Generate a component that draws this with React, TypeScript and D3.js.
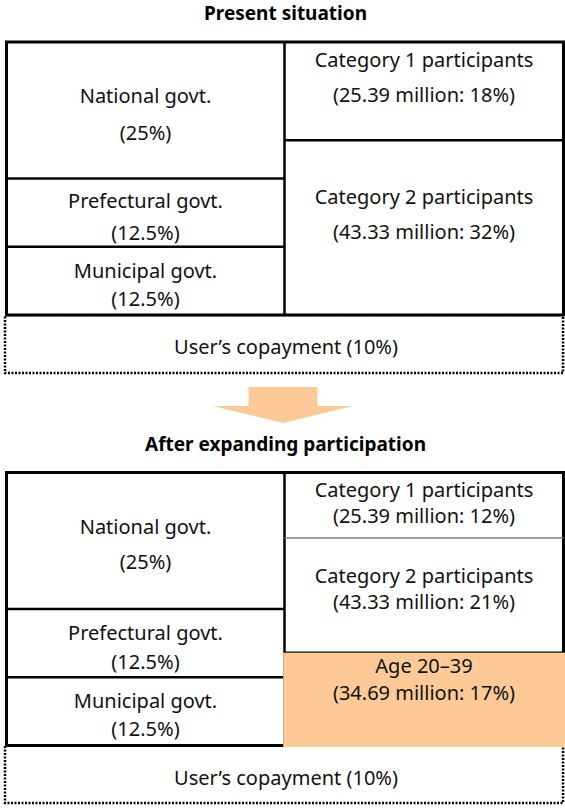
import * as d3 from 'd3';

const TITLES = ['Present situation', 'After expanding participation'];

const GOVT_NAMES = ['National govt.', 'Prefectural govt.', 'Municipal govt.'];
const GOVT_SHARES = [25, 12.5, 12.5];

const NOW_NAMES = ['Category 1 participants', 'Category 2 participants'];
const NOW_MILLIONS = [25.39, 43.33];
const NOW_SHARES = [18, 32];

const AFTER_NAMES = ['Category 1 participants', 'Category 2 participants', 'Age 20\u201339'];
const AFTER_MILLIONS = [25.39, 43.33, 34.69];
const AFTER_SHARES = [12, 21, 17];

const COPAY_NAME = 'User\u2019s copayment';
const COPAY_SHARE = 10;

// label placement: [first baseline below block top, line gap]
const LABEL_POS_NOW = {
  left: [[61, 37], [29, 32], [31, 28]],
  right: [[25, 35], [64, 35]],
};
const LABEL_POS_AFTER = {
  left: [[61, 35], [31, 29], [31, 28]],
  right: [[24, 26], [45, 26], [20, 27]],
};

const W = 565;
const H = 809;
const X0 = 6.5;
const X1 = 563.5;
const XMID = 284.5;
const BLOCK_H = 273; // height of 50%
const FONT = '"Noto Sans", "DejaVu Sans", sans-serif';
const PEACH = '#fdca97';

type Block = { name: string; sub: string; y0: number; y1: number; pos: number[] };

function pct(v: number) {
  return `${d3.format('~g')(v)}%`;
}

function Label({ x, b }: { x: number; b: Block }) {
  const [off, gap] = b.pos;
  return (
    <g fontFamily={FONT} fontSize={20} fill="#111" textAnchor="middle">
      <text x={x} y={b.y0 + off}>{b.name}</text>
      <text x={x} y={b.y0 + off + gap}>{b.sub}</text>
    </g>
  );
}

function Panel({ top, title, names, millions, shares, pos, grayDivider, highlight }: {
  top: number; title: string; names: string[]; millions: number[]; shares: number[];
  pos: { left: number[][]; right: number[][] }; grayDivider?: boolean; highlight?: number;
}) {
  const y = d3.scaleLinear().domain([0, 50]).range([top, top + BLOCK_H]);
  const govtEnds = d3.cumsum(GOVT_SHARES);
  const rightEnds = d3.cumsum(shares);

  const left: Block[] = GOVT_NAMES.map((n, i) => ({
    name: n,
    sub: `(${pct(GOVT_SHARES[i])})`,
    y0: y(govtEnds[i] - GOVT_SHARES[i]),
    y1: y(govtEnds[i]),
    pos: pos.left[i],
  }));
  const right: Block[] = names.map((n, i) => ({
    name: n,
    sub: `(${millions[i]} million: ${pct(shares[i])})`,
    y0: y(rightEnds[i] - shares[i]),
    y1: y(rightEnds[i]),
    pos: pos.right[i],
  }));

  const bottom = y(50);
  // the copayment strip is drawn a touch taller than its share, as in the source figure
  const copayBottom = Math.round(y(50 + COPAY_SHARE)) + 3;
  const hl = highlight != null ? right[highlight] : null;

  return (
    <g>
      <text x={(X0 + X1) / 2 + 0.5} y={top - 22} textAnchor="middle" fontFamily={FONT}
        fontWeight="bold" fontSize={19} fill="#000">{title}</text>

      {/* copayment box, dotted */}
      <rect x={5} y={bottom} width={558} height={copayBottom - bottom}
        fill="#fff" stroke="#000" strokeWidth={2.5} strokeDasharray="2 1.5" />
      <text x={(X0 + X1) / 2 + 1} y={bottom + 39} textAnchor="middle" fontFamily={FONT}
        fontSize={20} fill="#111">{`${COPAY_NAME} (${pct(COPAY_SHARE)})`}</text>

      {/* main box */}
      <rect x={X0} y={top} width={X1 - X0} height={bottom - top} fill="#fff" stroke="#000" strokeWidth={3} />
      <line x1={XMID} x2={XMID} y1={top} y2={bottom} stroke="#000" strokeWidth={2.5} />
      {left.slice(1).map((b, i) => (
        <line key={`l${i}`} x1={X0} x2={XMID} y1={b.y0} y2={b.y0} stroke="#000" strokeWidth={2.5} />
      ))}
      {right.slice(1).map((b, i) => (
        <line key={`r${i}`} x1={XMID} x2={X1} y1={b.y0} y2={b.y0}
          stroke={grayDivider && i === 0 ? '#7f7f7f' : '#000'} strokeWidth={grayDivider && i === 0 ? 1.5 : 2.5} />
      ))}
      {hl && (
        <rect x={XMID - 1.25} y={hl.y0} width={W - XMID + 1.25} height={hl.y1 - hl.y0 + 1.5} fill={PEACH} />
      )}

      {left.map((b, i) => <Label key={`lt${i}`} x={(X0 + XMID) / 2} b={b} />)}
      {right.map((b, i) => <Label key={`rt${i}`} x={(XMID + X1) / 2} b={b} />)}
    </g>
  );
}

function Arrow({ cx, top }: { cx: number; top: number }) {
  const shaftHalf = 34.5;
  const headHalf = 70;
  const shaftH = 19;
  const headH = 17;
  const pts: [number, number][] = [
    [cx - shaftHalf, top], [cx + shaftHalf, top], [cx + shaftHalf, top + shaftH],
    [cx + headHalf, top + shaftH], [cx, top + shaftH + headH], [cx - headHalf, top + shaftH],
    [cx - shaftHalf, top + shaftH],
  ];
  return <path d={d3.line()(pts) + 'Z'} fill={PEACH} />;
}

export default function App() {
  return (
    <svg width={W} height={H} viewBox={`0 0 ${W} ${H}`}
      style={{ position: 'absolute', left: 0, top: 0, background: '#fff' }}>
      <rect width={W} height={H} fill="#fff" />
      <Panel top={42} title={TITLES[0]} names={NOW_NAMES} millions={NOW_MILLIONS}
        shares={NOW_SHARES} pos={LABEL_POS_NOW} />
      <Arrow cx={283} top={387} />
      <Panel top={472.5} title={TITLES[1]} names={AFTER_NAMES} millions={AFTER_MILLIONS}
        shares={AFTER_SHARES} pos={LABEL_POS_AFTER} grayDivider highlight={2} />
    </svg>
  );
}
